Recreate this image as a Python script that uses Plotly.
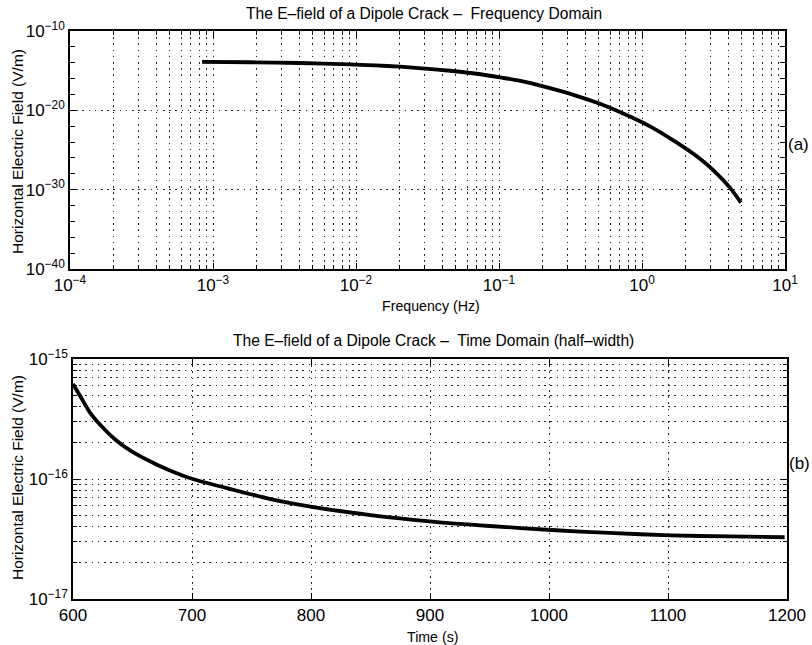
import plotly.graph_objects as go

# ---------------- data ----------------
# Panel (a): frequency domain
freq_hz = [8.38e-4, 1.82e-3, 4.06e-3, 9.08e-3, 0.0136, 2.03e-2, 0.0304, 4.54e-2, 0.0679, 0.1017, 0.152, 0.2275, 0.340,
           0.508, 0.760, 1.137, 1.70, 2.545, 3.24, 4.12, 4.92]
efield_freq = [1.26e-14, 1.15e-14, 9.3e-15, 6.1e-15, 4.6e-15, 3.2e-15, 1.86e-15, 9.8e-16, 4.4e-16, 1.45e-16, 3.85e-17,
               6.2e-18, 7.8e-19, 6.6e-20, 3.2e-21, 9.6e-23, 1.2e-24, 7.9e-27, 1.8e-28, 1.8e-30, 2.3e-32]

# Panel (b): time domain (half-width)
time_s = [600, 606, 614, 623, 637, 650, 671, 692, 702, 732, 766, 802, 850, 902, 950, 1002, 1051, 1102, 1152, 1198]
efield_time = [6.2e-16, 4.92e-16, 3.61e-16, 2.82e-16, 2.07e-16, 1.68e-16, 1.31e-16, 1.07e-16, 9.9e-17, 8.26e-17,
               6.81e-17, 5.84e-17, 5.01e-17, 4.42e-17, 4.06e-17, 3.76e-17, 3.55e-17, 3.39e-17, 3.32e-17, 3.27e-17]

# tick labels
xa_tickvals = [1e-4, 1e-3, 1e-2, 1e-1, 1e0, 1e1]
xa_ticktext = ["10<sup>−4</sup>", "10<sup>−3</sup>", "10<sup>−2</sup>", "10<sup>−1</sup>", "10<sup>0</sup>", "10<sup>1</sup>"]
ya_tickvals = [1e-40, 1e-30, 1e-20, 1e-10]
ya_ticktext = ["10<sup>−40</sup>", "10<sup>−30</sup>", "10<sup>−20</sup>", "10<sup>−10</sup>"]
yb_tickvals = [1e-17, 1e-16, 1e-15]
yb_ticktext = ["10<sup>−17</sup>", "10<sup>−16</sup>", "10<sup>−15</sup>"]
xb_tickvals = [600, 700, 800, 900, 1000, 1100, 1200]

title_a = "The E–field of a Dipole Crack –  Frequency Domain"
title_b = "The E–field of a Dipole Crack –  Time Domain (half–width)"
ytitle = "Horizontal Electric Field (V/m)"
xtitle_a = "Frequency (Hz)"
xtitle_b = "Time (s)"

# minor tick positions
xa_minor = [m * 10.0 ** e for e in range(-4, 1) for m in range(2, 10)]
ya_minor = [10.0 ** e for e in range(-38, -10, 2) if e % 10 != 0]
yb_minor = [m * 10.0 ** e for e in (-17, -16) for m in range(2, 10)]

FONT = "Liberation Sans, Arial, Helvetica, sans-serif"
W, H = 812, 645
GRID_DASH = "1.6px,4.6px"
GRID_COL = "#222222"
GRID_W = 1.3

fig = go.Figure()
fig.add_trace(go.Scatter(x=freq_hz, y=efield_freq, mode="lines",
                         line=dict(color="black", width=3.8, shape="spline", smoothing=0.8),
                         xaxis="x", yaxis="y", showlegend=False))
fig.add_trace(go.Scatter(x=time_s, y=efield_time, mode="lines",
                         line=dict(color="black", width=3.8, shape="spline", smoothing=0.7),
                         xaxis="x2", yaxis="y2", showlegend=False))

common = dict(showline=True, linecolor="black", linewidth=1.6, mirror="allticks", ticks="inside",
              ticklen=6, tickwidth=1.3, tickcolor="black", zeroline=False, automargin=False,
              tickfont=dict(family=FONT, size=17, color="black"),
              showgrid=True, gridcolor=GRID_COL, gridwidth=GRID_W, griddash=GRID_DASH)


def ann(text, x, y, size, angle=0):
    return dict(text=text, x=x / W, y=1 - y / H, xref="paper", yref="paper", showarrow=False,
                xanchor="center", yanchor="middle", textangle=angle,
                font=dict(size=size, family=FONT, color="black"))


fig.update_layout(
    width=W, height=H,
    margin=dict(l=0, r=0, t=0, b=0),
    paper_bgcolor="white", plot_bgcolor="white",
    font=dict(family=FONT, color="black"),
    xaxis=dict(domain=[70 / W, 785 / W], anchor="y", type="log", range=[-4, 1],
               tickmode="array", tickvals=xa_tickvals, ticktext=xa_ticktext,
               minor=dict(tickmode="array", tickvals=xa_minor, ticks="inside", ticklen=4, tickcolor="black",
                          showgrid=True, gridcolor=GRID_COL, gridwidth=GRID_W, griddash=GRID_DASH),
               **common),
    yaxis=dict(domain=[1 - 269 / H, 1 - 31 / H], anchor="x", type="log", range=[-40, -10],
               tickmode="array", tickvals=ya_tickvals, ticktext=ya_ticktext,
               minor=dict(tickmode="array", tickvals=ya_minor, ticks="inside", ticklen=5, tickcolor="black",
                          showgrid=False),
               **common),
    xaxis2=dict(domain=[73 / W, 787 / W], anchor="y2", type="linear", range=[600, 1200],
                tickmode="array", tickvals=xb_tickvals,
                **common),
    yaxis2=dict(domain=[1 - 599 / H, 1 - 359 / H], anchor="x2", type="log", range=[-17, -15],
                tickmode="array", tickvals=yb_tickvals, ticktext=yb_ticktext,
                minor=dict(tickmode="array", tickvals=yb_minor, ticks="inside", ticklen=4, tickcolor="black",
                           showgrid=True, gridcolor=GRID_COL, gridwidth=GRID_W, griddash=GRID_DASH),
                **common),
    annotations=[
        ann(title_a, 424, 13, 15.6),
        ann(title_b, 433, 340, 15.6),
        ann(xtitle_a, 431, 306, 14.2),
        ann(xtitle_b, 433, 637, 14.2),
        ann(ytitle, 17, 152, 15.5, -90),
        ann(ytitle, 17, 478, 15.5, -90),
        ann("(a)", 798, 144, 17),
        ann("(b)", 799, 463, 17),
    ],
)

fig.write_html("out.html")
